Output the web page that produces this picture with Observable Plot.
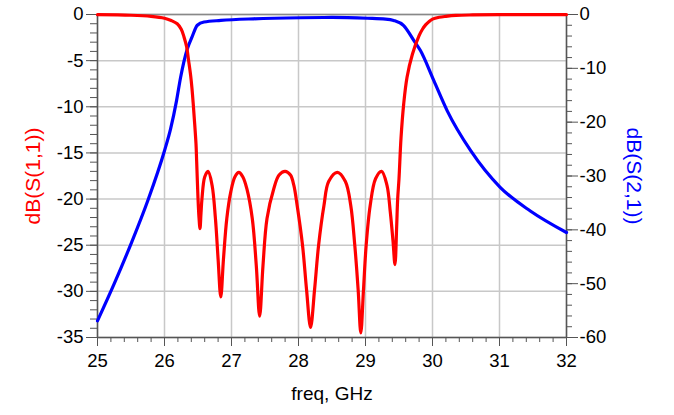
<!DOCTYPE html>
<html><head><meta charset="utf-8">
<script src="https://cdn.jsdelivr.net/npm/d3@7"></script>
<script src="https://cdn.jsdelivr.net/npm/@observablehq/plot@0.6"></script>
<style>body{margin:0;background:#fff;} svg{display:block;}</style>
</head><body><div id="chart"></div>
<script>
const freqS11 = [25.0,25.5,25.8,26.0,26.1,26.19,26.25,26.29,26.33,26.36,26.39,26.41,26.43,26.45,26.47,26.48,26.5,26.515,26.53,26.545,26.56,26.6,26.65,26.71,26.76,26.8,26.84,26.88,26.93,26.99,27.05,27.11,27.17,27.23,27.31,27.37,27.42,27.47,27.53,27.63,27.71,27.8,27.88,27.93,27.98,28.06,28.12,28.18,28.24,28.3,28.38,28.45,28.58,28.7,28.78,28.84,28.89,28.93,28.97,29.01,29.07,29.15,29.24,29.32,29.37,29.41,29.44,29.465,29.48,29.5,29.53,29.57,29.62,29.7,29.8,29.85,29.9,29.95,30.0,30.1,30.2,30.35,30.6,31.0,32.0];
const s11dB = [-0.02,-0.08,-0.2,-0.4,-0.65,-1.0,-1.6,-2.4,-3.5,-5.0,-6.6,-8.0,-9.8,-11.8,-14.0,-15.9,-19.9,-22.0,-23.2,-21.5,-19.9,-17.6,-17.0,-18.5,-22.1,-26.5,-30.6,-26.5,-22.1,-19.2,-17.6,-17.1,-17.6,-18.9,-22.1,-27.2,-32.7,-27.2,-22.1,-18.9,-17.4,-17.0,-17.4,-18.5,-20.7,-25.0,-29.8,-33.9,-29.8,-25.0,-20.7,-18.1,-17.1,-18.1,-20.7,-25.0,-29.8,-34.5,-29.8,-25.0,-20.7,-17.8,-17.0,-18.5,-21.4,-24.5,-27.1,-23.0,-20.0,-17.8,-13.4,-9.7,-6.8,-4.3,-2.3,-1.6,-1.1,-0.75,-0.5,-0.3,-0.2,-0.1,-0.05,-0.02,-0.01];
const freqS21 = [25.0,25.25,25.5,25.75,26.0,26.09,26.18,26.24,26.34,26.41,26.49,26.59,26.84,27.33,28.03,28.5,29.03,29.3,29.42,29.57,29.72,29.82,30.02,30.22,30.57,31.01,31.46,32.0];
const s21dB = [-56.9,-50.0,-42.6,-34.6,-25.3,-21.3,-16.0,-11.7,-6.4,-4.2,-2.0,-1.4,-1.1,-0.8,-0.6,-0.55,-0.7,-0.85,-1.1,-2.05,-4.8,-6.7,-12.3,-17.9,-25.3,-32.1,-36.5,-40.5];
const xTicks = [25,26,27,28,29,30,31,32];
const leftTicks = [0,-5,-10,-15,-20,-25,-30,-35];
const rightTicks = [0,-10,-20,-30,-40,-50,-60];

const LEFT_MIN = -35, RIGHT_MIN = -60;
const toLeft = r => r * LEFT_MIN / RIGHT_MIN;
const s11 = freqS11.map((f,i)=>({f, v:s11dB[i]}));
const s21 = freqS21.map((f,i)=>({f, v:toLeft(s21dB[i])}));
const minorX = d3.range(25, 32.001, 0.2).map(v=>+v.toFixed(2));
const minorLeft = d3.range(0, -35.001, -1);
const minorRight = d3.range(0, -60.001, -2).map(toLeft);

const axisColor = "#555";
const chart = Plot.plot({
  width: 674, height: 415,
  marginLeft: 97, marginRight: 108, marginTop: 14, marginBottom: 78,
  x: {domain: [25, 32]},
  y: {domain: [-35, 0]},
  style: {fontFamily: "'Liberation Sans', Arial, sans-serif", fontSize: "18.5px", color: "#000", background: "#fff", overflow: "visible"},
  marks: [
    Plot.gridX(xTicks, {stroke: "#c8c8c8", strokeOpacity: 1, strokeWidth: 1.5}),
    Plot.gridY(leftTicks, {stroke: "#c8c8c8", strokeOpacity: 1, strokeWidth: 1.5}),
    Plot.ruleY([0], {stroke: "#888", strokeWidth: 1.5}),
    Plot.ruleY([-35], {stroke: axisColor, strokeWidth: 1.5}),
    Plot.ruleX([25, 32], {stroke: axisColor, strokeWidth: 1.5}),
    Plot.axisX(minorX, {tickSize: 5, text: null, stroke: axisColor, label: null}),
    Plot.axisX(xTicks, {tickSize: 9, tickPadding: 7, stroke: axisColor, tickFormat: d => String(d), label: null, fill: "#000"}),
    Plot.axisY(minorLeft, {anchor: "left", tickSize: 7, text: null, stroke: axisColor, label: null}),
    Plot.axisY(leftTicks, {anchor: "left", tickSize: 11, tickPadding: 3, stroke: axisColor, tickFormat: d => String(d), label: null, fill: "#000"}),
    Plot.axisY(minorRight, {anchor: "right", tickSize: 5, text: null, stroke: axisColor, label: null}),
    Plot.axisY(rightTicks.map(toLeft), {anchor: "right", tickSize: 11, tickPadding: 2, stroke: axisColor, tickFormat: d => String(Math.round(d * RIGHT_MIN / LEFT_MIN)), label: null, fill: "#000"}),
    Plot.line(s21, {x: "f", y: "v", stroke: "#0000ff", strokeWidth: 3.2, curve: "monotone-x"}),
    Plot.line(s11, {x: "f", y: "v", stroke: "#ff0000", strokeWidth: 3.2, curve: "catmull-rom"}),
    Plot.text(["freq, GHz"], {frameAnchor: "bottom", dy: 62, fontSize: 19, fill: "#000"}),
    Plot.text(["dB(S(1,1))"], {frameAnchor: "left", textAnchor: "middle", dx: -64, rotate: -90, fontSize: 21, fill: "#ff0000"}),
    Plot.text(["dB(S(2,1))"], {frameAnchor: "right", textAnchor: "middle", dx: 67, rotate: 90, fontSize: 21, fill: "#0000ff"})
  ]
});
document.getElementById("chart").append(chart);
</script></body></html>
